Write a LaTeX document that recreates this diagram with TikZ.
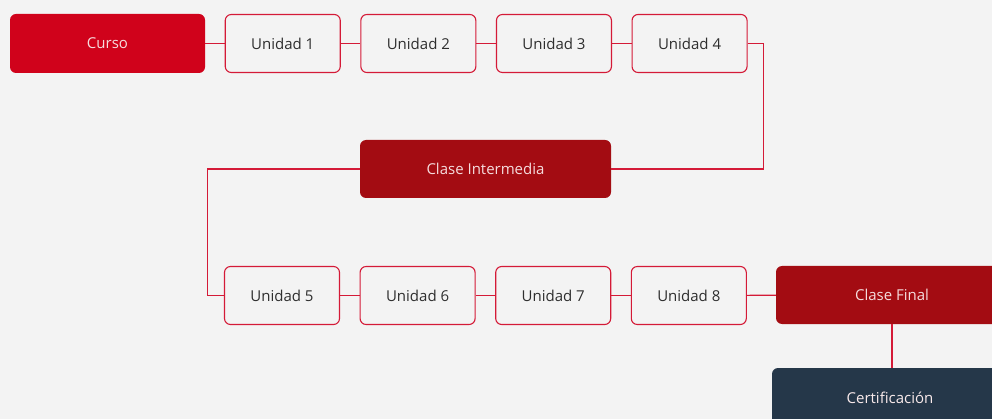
\documentclass[tikz,border=0pt]{standalone}
\usepackage{fontspec}
\setmainfont{Open Sans}
\usetikzlibrary{positioning}

\definecolor{bgGray}{HTML}{F3F3F3}
\definecolor{cursoRed}{HTML}{D0021B}
\definecolor{claseRed}{HTML}{A30C12}
\definecolor{certBlue}{HTML}{253749}
\definecolor{lineRed}{HTML}{D41A37}
\definecolor{textDark}{HTML}{2E2E2E}
\definecolor{textLight}{HTML}{F5DCDD}

\begin{document}
\begin{tikzpicture}[x=1pt,y=-1pt,node distance=19.5pt,
		box/.style={rectangle,rounded corners=6pt,minimum height=58pt,inner sep=0pt,
			font=\fontsize{15}{17}\selectfont},
		unidad/.style={box,draw=lineRed,line width=1.1pt,fill=bgGray,text=textDark,minimum width=115pt},
		clase/.style={box,fill=claseRed,text=textLight,minimum height=58pt},
		link/.style={lineRed,line width=1.2pt}]

		\fill[bgGray] (0,0) rectangle (992,419);
		\useasboundingbox (0,0) rectangle (992,419);

		% first row
		\node (curso) [box,fill=cursoRed,text=textLight,minimum width=195pt,minimum height=59pt] at (107.5,43.5) {Curso};
		\node (u1) [unidad,right=of curso] {Unidad 1};
		\node (u2) [unidad,right=of u1]    {Unidad 2};
		\node (u3) [unidad,right=of u2]    {Unidad 3};
		\node (u4) [unidad,right=of u3]    {Unidad 4};

		\node (mid) [clase,minimum width=251pt] at (485.5,169) {Clase Intermedia};

		% second row
		\node (u5) [unidad] at (282,295.5) {Unidad 5};
		\node (u6) [unidad,right=of u5]    {Unidad 6};
		\node (u7) [unidad,right=of u6]    {Unidad 7};
		\node (u8) [unidad,right=of u7]    {Unidad 8};
		\node (final) [clase,minimum width=232pt] at (892,295) {Clase Final};

		\node (cert) [box,fill=certBlue,text=textLight!60!white,minimum width=236pt,minimum height=59pt] at (890,397.5) {Certificación};

		\foreach \a/\b in {curso/u1,u1/u2,u2/u3,u3/u4,u5/u6,u6/u7,u7/u8,u8/final}
			\draw[link] (\a) -- (\b);
		\draw[link] (u4.east) -- ++(16,0) |- (mid.east);
		\draw[link] (mid.west) -- ++(-152,0) |- (u5.west);
		\draw[link] (final.south) -- (final.south |- cert.north);
	\end{tikzpicture}
\end{document}
